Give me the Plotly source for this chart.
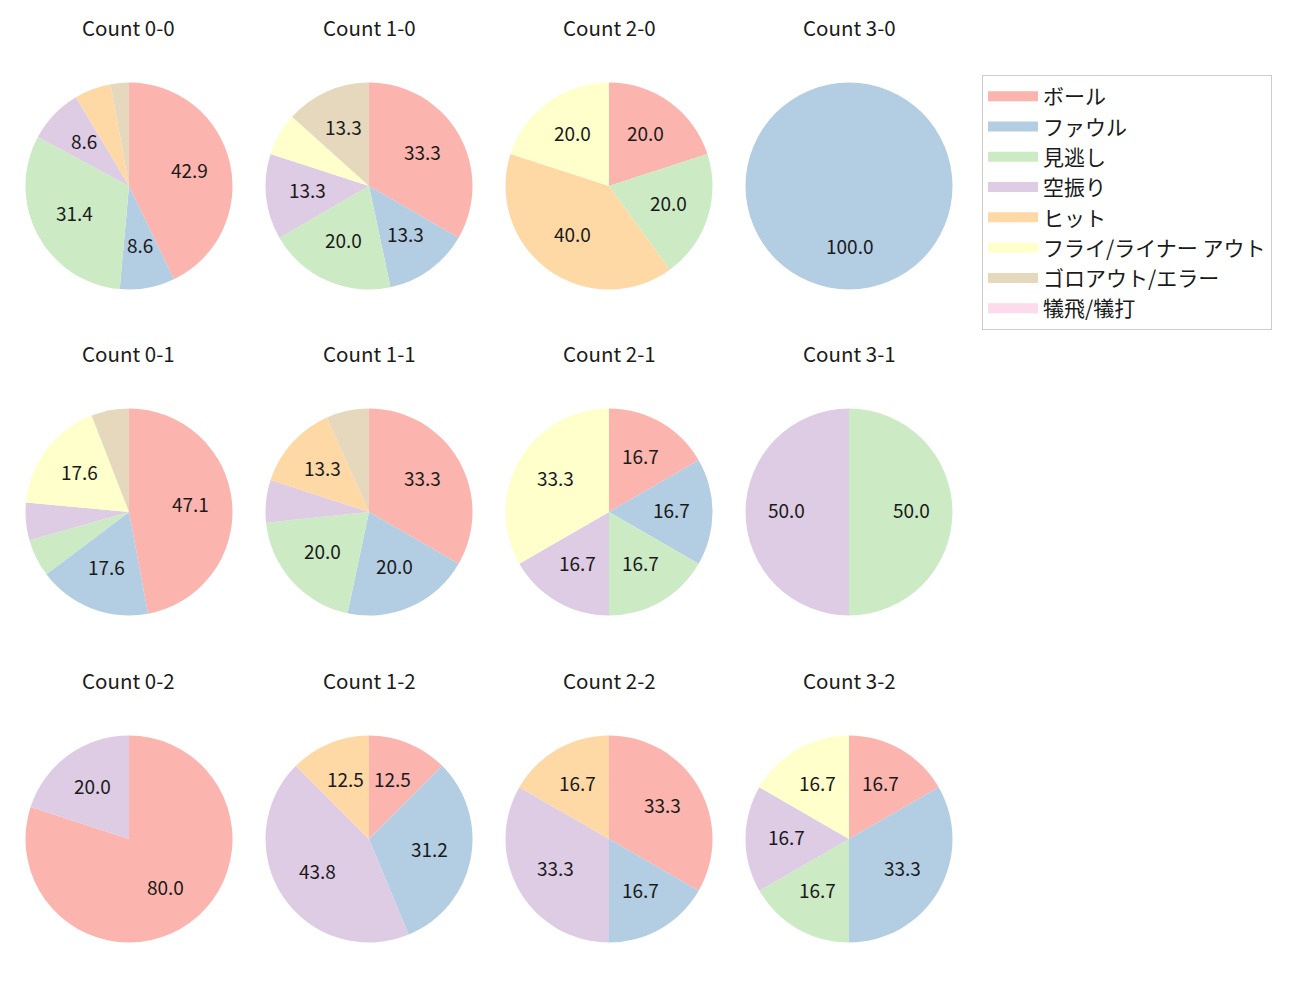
import math
import plotly.graph_objects as go

categories = ["ボール", "ファウル", "見逃し", "空振り", "ヒット",
              "フライ/ライナー アウト", "ゴロアウト/エラー", "犠飛/犠打"]
colors = ["#fbb4ae", "#b3cde3", "#ccebc5", "#decbe4", "#fed9a6",
          "#ffffcc", "#e5d8bd", "#fddaec"]

titles = [["Count 0-0", "Count 1-0", "Count 2-0", "Count 3-0"],
          ["Count 0-1", "Count 1-1", "Count 2-1", "Count 3-1"],
          ["Count 0-2", "Count 1-2", "Count 2-2", "Count 3-2"]]

count_0_0 = [15, 3, 11, 3, 2, 0, 1, 0]
count_1_0 = [5, 2, 3, 2, 0, 1, 2, 0]
count_2_0 = [1, 0, 1, 0, 2, 1, 0, 0]
count_3_0 = [0, 1, 0, 0, 0, 0, 0, 0]
count_0_1 = [8, 3, 1, 1, 0, 3, 1, 0]
count_1_1 = [5, 3, 3, 1, 2, 0, 1, 0]
count_2_1 = [1, 1, 1, 1, 0, 2, 0, 0]
count_3_1 = [0, 0, 1, 1, 0, 0, 0, 0]
count_0_2 = [4, 0, 0, 1, 0, 0, 0, 0]
count_1_2 = [2, 5, 0, 7, 2, 0, 0, 0]
count_2_2 = [2, 1, 0, 2, 1, 0, 0, 0]
count_3_2 = [1, 2, 1, 1, 0, 1, 0, 0]

grid = [[count_0_0, count_1_0, count_2_0, count_3_0],
        [count_0_1, count_1_1, count_2_1, count_3_1],
        [count_0_2, count_1_2, count_2_2, count_3_2]]

W, H = 1300, 1000
col_cx = [121, 361, 601, 841]
row_cy = [178, 504, 831]
R = 103.5
FONT = "Noto Sans CJK JP"

fig = go.Figure()
annotations = []
for ri, row in enumerate(grid):
    for ci, vals in enumerate(row):
        cx, cy = col_cx[ci], row_cy[ri]
        x0, x1 = (cx - R) / W, (cx + R) / W
        y0, y1 = 1 - (cy + R) / H, 1 - (cy - R) / H
        fig.add_trace(go.Pie(
            labels=categories, values=vals, sort=False,
            direction="clockwise", rotation=0,
            marker=dict(colors=colors, line=dict(width=0)),
            textinfo="none", hoverinfo="label+percent",
            domain=dict(x=[x0, x1], y=[y0, y1]),
            showlegend=False,
        ))
        total = sum(vals)
        cum = 0
        for v in vals:
            if v > 0:
                pct = 100 * v / total
                if pct >= 7:
                    th = 2 * math.pi * (cum + v / 2) / total
                    px = cx + 0.6 * R * math.sin(th)
                    py = cy - 0.6 * R * math.cos(th) - 3
                    annotations.append(dict(
                        x=px / W, y=1 - py / H, xref="paper", yref="paper",
                        text=f"{pct:.1f}", showarrow=False,
                        font=dict(size=19, color="#1a1a1a", family=FONT),
                        xanchor="center", yanchor="middle"))
            cum += v
        annotations.append(dict(
            x=cx / W, y=1 - (cy - 159) / H, xref="paper", yref="paper",
            text=titles[ri][ci], showarrow=False,
            font=dict(size=20.5, color="#1a1a1a", family=FONT),
            xanchor="center", yanchor="middle"))

# legend-only entries
for name, col in zip(categories, colors):
    fig.add_trace(go.Scatter(
        x=[None], y=[None], mode="lines", name=name,
        line=dict(color=col, width=14), hoverinfo="skip",
    ))

fig.update_layout(
    width=W, height=H,
    margin=dict(l=0, r=0, t=0, b=0),
    paper_bgcolor="white", plot_bgcolor="white",
    font=dict(family=FONT, size=19, color="#1a1a1a"),
    annotations=annotations,
    xaxis=dict(visible=False, domain=[0.99, 1.0]),
    yaxis=dict(visible=False, domain=[0.0, 0.01]),
    legend=dict(x=974 / W, y=1 - 67 / H, xanchor="left", yanchor="top",
                bordercolor="#cccccc", borderwidth=1, bgcolor="white",
                itemwidth=50,
                font=dict(size=21, family=FONT), traceorder="normal"),
)
fig.write_html("out.html")
